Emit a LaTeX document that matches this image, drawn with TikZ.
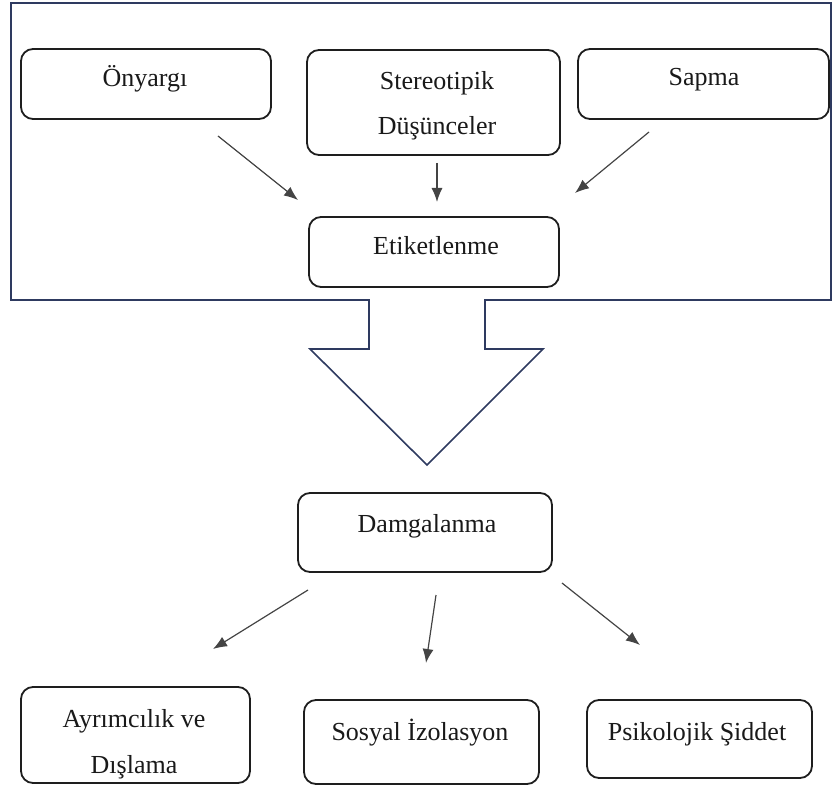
\documentclass[tikz,border=0pt]{standalone}
\usepackage{fontspec}
\setmainfont{Liberation Serif}
\usetikzlibrary{arrows.meta}
\definecolor{framecol}{HTML}{2E3A60}
\definecolor{boxcol}{HTML}{1E1E1E}
\definecolor{arrcol}{HTML}{444444}
\tikzset{
  box/.style={draw=boxcol, line width=1.8pt, rounded corners=12pt, inner sep=0pt},
  txt/.style={anchor=base, inner sep=0pt, font=\fontsize{26}{30}\selectfont, text=black!90},
  conn/.style={draw=arrcol, line width=1.2pt, -{Latex[length=14pt,width=11pt]}},
  frame/.style={draw=framecol, line width=1.6pt, line join=miter}
}
\begin{document}
\begin{tikzpicture}[x=1pt,y=-1pt]
\useasboundingbox (0,0) rectangle (833,791);
% frame with block arrow
\draw[frame] (11,3) -- (831,3) -- (831,300) -- (485,300) -- (485,349) -- (543,349)
  -- (427,465) -- (310,349) -- (369,349) -- (369,300) -- (11,300) -- cycle;
% top boxes
\node[box, minimum width=250pt, minimum height=70pt] (onb) at (146,84) {};
\node[txt] (ont) at (145,87) {Önyargı};
\node[box, minimum width=253pt, minimum height=105pt] (stb) at (433.5,102.5) {};
\node[txt] (st1) at (437,90) {Stereotipik};
\node[txt] (st2) at (437,135) {Düşünceler};
\node[box, minimum width=251pt, minimum height=70pt] (sab) at (703.5,84) {};
\node[txt] (sat) at (704,86) {Sapma};
\node[box, minimum width=250pt, minimum height=70pt] (etb) at (434,252) {};
\node[txt] (ett) at (436,255) {Etiketlenme};
% damgalanma
\node[box, minimum width=254pt, minimum height=79pt] (dab) at (425,532.5) {};
\node[txt] (dat) at (427,532) {Damgalanma};
% bottom boxes
\node[box, minimum width=229pt, minimum height=96pt] (ayb) at (135.5,735) {};
\node[txt] (ay1) at (134,727) {Ayrımcılık ve};
\node[txt] (ay2) at (134,773) {Dışlama};
\node[box, minimum width=235pt, minimum height=84pt] (sob) at (421.5,742) {};
\node[txt] (sot) at (420,740) {Sosyal İzolasyon};
\node[box, minimum width=225pt, minimum height=78pt] (psb) at (699.5,739) {};
\node[txt] (pst) at (697,740) {Psikolojik Şiddet};
% arrow endpoints
\coordinate (a1s) at (218,136); \coordinate (a1e) at (298,200);
\coordinate (a2s) at (437,163); \coordinate (a2e) at (437,202);
\coordinate (a3s) at (649,132); \coordinate (a3e) at (575,193);
\coordinate (b1s) at (308,590); \coordinate (b1e) at (213,649);
\coordinate (b2s) at (436,595); \coordinate (b2e) at (426,663);
\coordinate (b3s) at (562,583); \coordinate (b3e) at (640,645);
\draw[conn] (a1s) -- (a1e);
\draw[conn] (a2s) -- (a2e);
\draw[conn] (a3s) -- (a3e);
\draw[conn] (b1s) -- (b1e);
\draw[conn] (b2s) -- (b2e);
\draw[conn] (b3s) -- (b3e);
\end{tikzpicture}
\end{document}
